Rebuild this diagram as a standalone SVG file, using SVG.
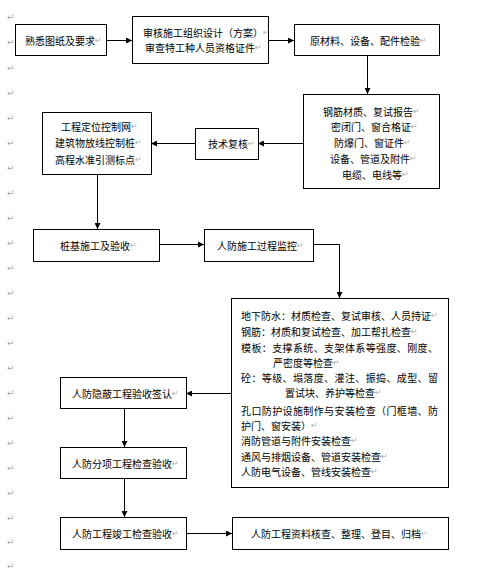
<svg xmlns="http://www.w3.org/2000/svg" width="485" height="570" viewBox="0 0 485 570">
<defs>
<marker id="ah" markerUnits="userSpaceOnUse" markerWidth="6" markerHeight="6" refX="6" refY="3" orient="auto">
<path d="M0,0 L6,3 L0,6 z" fill="#000"/>
</marker>
<style>
.box{fill:#fff;stroke:#000;stroke-width:1}
.t{font-family:"Noto Sans CJK SC","Noto Sans CJK JP",sans-serif;font-size:10px;fill:#000;dominant-baseline:central}
.pm{fill:#aaa;font-family:"DejaVu Sans",sans-serif;font-size:8px}
.c{fill:none;stroke:#000;stroke-width:1;marker-end:url(#ah)}
.m{font-family:"DejaVu Sans",sans-serif;font-size:9px;fill:#aaa;dominant-baseline:central}
</style>
</defs>
<rect width="485" height="570" fill="#fff"/>
<g id="margin-marks">
<text class="m" x="7" y="17">↵</text><text class="m" x="7" y="42">↵</text><text class="m" x="7" y="68">↵</text><text class="m" x="7" y="93">↵</text><text class="m" x="7" y="118">↵</text><text class="m" x="7" y="143">↵</text><text class="m" x="7" y="168">↵</text><text class="m" x="7" y="193">↵</text><text class="m" x="7" y="218">↵</text><text class="m" x="7" y="243">↵</text><text class="m" x="7" y="268">↵</text><text class="m" x="7" y="293">↵</text><text class="m" x="7" y="318">↵</text><text class="m" x="7" y="343">↵</text><text class="m" x="7" y="368">↵</text><text class="m" x="7" y="393">↵</text><text class="m" x="7" y="418">↵</text><text class="m" x="7" y="443">↵</text><text class="m" x="7" y="468">↵</text><text class="m" x="7" y="493">↵</text><text class="m" x="7" y="518">↵</text><text class="m" x="7" y="542">↵</text><text class="m" x="7" y="566">↵</text>
</g>
<g id="connectors">
<line class="c" x1="106" y1="40.5" x2="132" y2="40.5"/>
<line class="c" x1="268" y1="40.5" x2="294" y2="40.5"/>
<line class="c" x1="367.5" y1="55" x2="367.5" y2="94"/>
<line class="c" x1="303" y1="143.5" x2="258" y2="143.5"/>
<line class="c" x1="195" y1="143.5" x2="151" y2="143.5"/>
<line class="c" x1="97.5" y1="174" x2="97.5" y2="229"/>
<line class="c" x1="159" y1="244.5" x2="204" y2="244.5"/>
<polyline class="c" points="313,244.5 339.5,244.5 339.5,298"/>
<line class="c" x1="231" y1="393.5" x2="186" y2="393.5"/>
<line class="c" x1="124.5" y1="408" x2="124.5" y2="447"/>
<line class="c" x1="124.5" y1="478" x2="124.5" y2="517"/>
<line class="c" x1="187" y1="533.5" x2="232" y2="533.5"/>
</g>
<g id="n1"><rect class="box" x="15.5" y="24.5" width="91" height="31"/>
<text class="t" x="25" y="40">熟悉图纸及要求<tspan class="pm">↵</tspan></text></g>
<g id="n2"><rect class="box" x="132.5" y="16.5" width="136" height="47"/>
<text class="t" x="143" y="32">审核施工组织设计（方案）<tspan class="pm">↵</tspan></text>
<text class="t" x="145" y="47">审查特工种人员资格证件<tspan class="pm">↵</tspan></text></g>
<g id="n3"><rect class="box" x="294.5" y="24.5" width="145" height="31"/>
<text class="t" x="310" y="40">原材料、设备、配件检验<tspan class="pm">↵</tspan></text></g>
<g id="n4"><rect class="box" x="303.5" y="94.5" width="136" height="94"/>
<text class="t" x="323" y="111">钢筋材质、复试报告<tspan class="pm">↵</tspan></text>
<text class="t" x="331" y="126">密闭门、窗合格证<tspan class="pm">↵</tspan></text>
<text class="t" x="334" y="142">防爆门、窗证件<tspan class="pm">↵</tspan></text>
<text class="t" x="330" y="158">设备、管道及附件<tspan class="pm">↵</tspan></text>
<text class="t" x="342" y="174">电缆、电线等<tspan class="pm">↵</tspan></text></g>
<g id="n5"><rect class="box" x="195.5" y="128.5" width="63" height="31"/>
<text class="t" x="208" y="143">技术复核<tspan class="pm">↵</tspan></text></g>
<g id="n6"><rect class="box" x="42.5" y="112.5" width="109" height="62"/>
<text class="t" x="61" y="126">工程定位控制网<tspan class="pm">↵</tspan></text>
<text class="t" x="55" y="142">建筑物放线控制桩<tspan class="pm">↵</tspan></text>
<text class="t" x="55" y="159">高程水准引测标点<tspan class="pm">↵</tspan></text></g>
<g id="n7"><rect class="box" x="33.5" y="229.5" width="126" height="32"/>
<text class="t" x="60" y="245">桩基施工及验收<tspan class="pm">↵</tspan></text></g>
<g id="n8"><rect class="box" x="204.5" y="229.5" width="109" height="32"/>
<text class="t" x="217" y="245">人防施工过程监控<tspan class="pm">↵</tspan></text></g>
<g id="n9"><rect class="box" x="231.5" y="298.5" width="217" height="189"/>
<text class="t" x="241" y="315">地下防水：材质检查、复试审核、人员持证<tspan class="pm">↵</tspan></text>
<text class="t" x="241" y="331">钢筋：材质和复试检查、加工帮扎检查<tspan class="pm">↵</tspan></text>
<text class="t" x="241" y="347" textLength="197" lengthAdjust="spacing">模板：支撑系统、支架体系等强度、刚度、</text>
<text class="t" x="273" y="362">严密度等检查<tspan class="pm">↵</tspan></text>
<text class="t" x="241" y="377" textLength="197" lengthAdjust="spacing">砼：等级、塌落度、灌注、振捣、成型、留</text>
<text class="t" x="285" y="392">置试块、养护等检查<tspan class="pm">↵</tspan></text>
<text class="t" x="241" y="410" textLength="197" lengthAdjust="spacing">孔口防护设施制作与安装检查（门框墙、防</text>
<text class="t" x="241" y="425">护门、窗安装）<tspan class="pm">↵</tspan></text>
<text class="t" x="241" y="440">消防管道与附件安装检查<tspan class="pm">↵</tspan></text>
<text class="t" x="241" y="456">通风与排烟设备、管道安装检查<tspan class="pm">↵</tspan></text>
<text class="t" x="241" y="471">人防电气设备、管线安装检查<tspan class="pm">↵</tspan></text></g>
<g id="n10"><rect class="box" x="60.5" y="377.5" width="126" height="31"/>
<text class="t" x="72" y="393">人防隐蔽工程验收签认<tspan class="pm">↵</tspan></text></g>
<g id="n11"><rect class="box" x="60.5" y="447.5" width="126" height="31"/>
<text class="t" x="72" y="463">人防分项工程检查验收<tspan class="pm">↵</tspan></text></g>
<g id="n12"><rect class="box" x="60.5" y="517.5" width="126" height="32"/>
<text class="t" x="72" y="533">人防工程竣工检查验收<tspan class="pm">↵</tspan></text></g>
<g id="n13"><rect class="box" x="232.5" y="517.5" width="216" height="32"/>
<text class="t" x="251" y="533">人防工程资料核查、整理、登目、归档<tspan class="pm">↵</tspan></text></g>
</svg>
